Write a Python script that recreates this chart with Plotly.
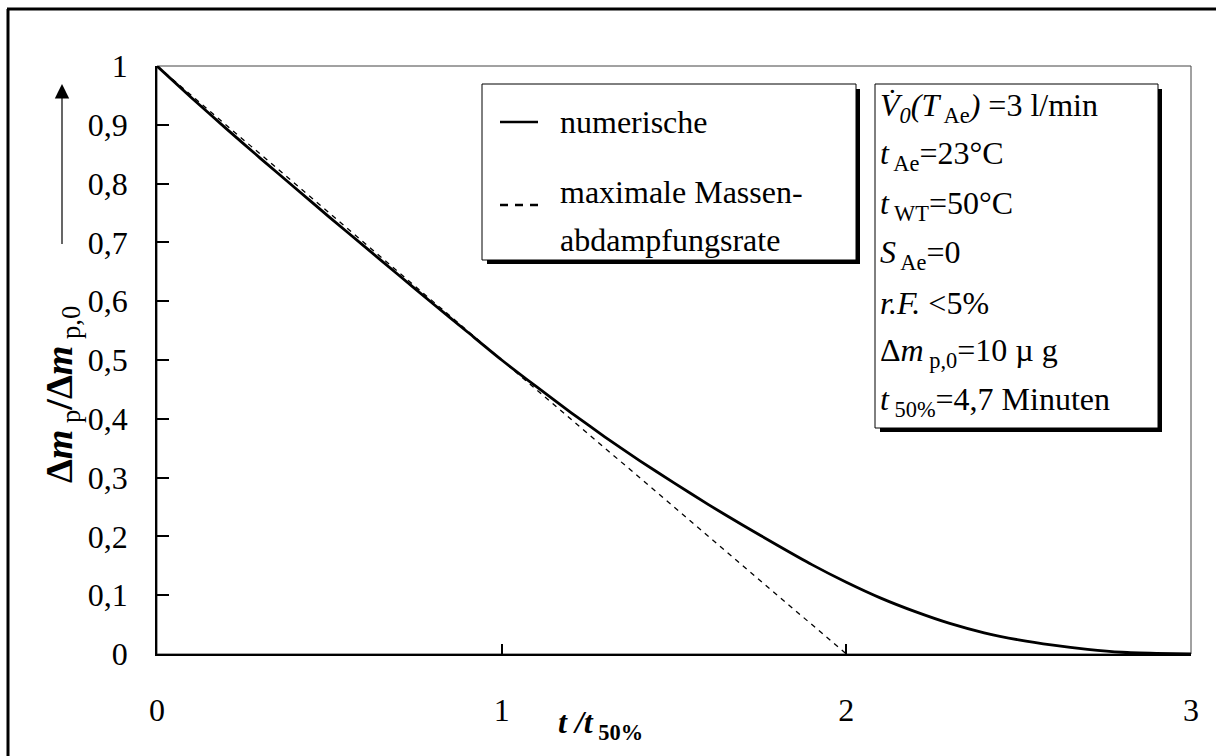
import plotly.graph_objects as go

# Relative time t / t50%
t_rel = [0.0, 0.1, 0.2, 0.3, 0.4, 0.5, 0.6, 0.7, 0.8, 0.9, 1.0,
         1.1, 1.2, 1.3, 1.4, 1.5, 1.6, 1.7, 1.8, 1.9, 2.0,
         2.1, 2.2, 2.3, 2.4, 2.5, 2.6, 2.7, 2.8, 2.9, 3.0]
# Numerical solution of the relative particle mass
mass_numeric = [1.0, 0.946, 0.894, 0.843, 0.793, 0.743, 0.694, 0.645, 0.596, 0.548, 0.500,
                0.455, 0.411, 0.369, 0.329, 0.291, 0.254, 0.219, 0.185, 0.152, 0.122,
                0.095, 0.072, 0.052, 0.036, 0.024, 0.015, 0.008, 0.003, 0.001, 0.0]
# Maximum evaporation rate (linear decrease)
t_max_rate = [0.0, 2.0]
mass_max_rate = [1.0, 0.0]

y_tickvals = [0, 0.1, 0.2, 0.3, 0.4, 0.5, 0.6, 0.7, 0.8, 0.9, 1.0]
y_ticktext = ["0", "0,1", "0,2", "0,3", "0,4", "0,5", "0,6", "0,7", "0,8", "0,9", "1"]
x_tickvals = [0, 1, 2, 3]
x_ticktext = ["0", "1", "2", "3"]

legend_labels = ["numerische", "maximale Massen-", "abdampfungsrate"]
info_lines = [
    "<i>V\u0307</i><sub><i>0</i></sub><i>(T</i><sub> Ae</sub><i>)</i> =3 l/min",
    "<i>t</i><sub> Ae</sub>=23°C",
    "<i>t</i><sub> WT</sub>=50°C",
    "<i>S</i><sub> Ae</sub>=0",
    "<i>r.F.</i> &lt;5%",
    "Δ<i>m</i><sub> p,0</sub>=10 µ g",
    "<i>t</i><sub> 50%</sub>=4,7 Minuten",
]

FONT = "Liberation Serif"
FS = 32

# plot area in pixels
L, R, T, B = 157, 1191, 66, 654
W, H = R - L, B - T


def px(x):
    return (x - L) / W


def py(y):
    return (B - y) / H


fig = go.Figure()
fig.add_trace(go.Scatter(x=t_max_rate, y=mass_max_rate, mode="lines",
                         line=dict(color="black", width=1.3, dash="5px,5px"),
                         showlegend=False, hoverinfo="skip"))
fig.add_trace(go.Scatter(x=t_rel, y=mass_numeric, mode="lines",
                         line=dict(color="black", width=2.8, shape="spline", smoothing=0.5),
                         showlegend=False, hoverinfo="skip"))

shapes = []
annotations = []

# outer figure border
shapes.append(dict(type="line", xref="paper", yref="paper", x0=px(8), y0=py(9), x1=px(8), y1=py(770),
                   line=dict(color="black", width=3)))
shapes.append(dict(type="line", xref="paper", yref="paper", x0=px(7), y0=py(9), x1=px(1230), y1=py(9),
                   line=dict(color="black", width=3)))
# plot frame
shapes.append(dict(type="rect", xref="paper", yref="paper", x0=0, y0=0, x1=1, y1=1,
                   line=dict(color="#444", width=1), layer="below"))


def shadow_box(x0, y0, x1, y1):
    shapes.append(dict(type="rect", xref="paper", yref="paper",
                       x0=px(x0 + 5), y0=py(y1 + 4), x1=px(x1 + 4), y1=py(y0 + 5),
                       fillcolor="black", line=dict(width=0), layer="above"))
    shapes.append(dict(type="rect", xref="paper", yref="paper",
                       x0=px(x0), y0=py(y1), x1=px(x1), y1=py(y0),
                       fillcolor="white", line=dict(color="black", width=1), layer="above"))


# legend box with line samples
shadow_box(482, 84, 856, 260)
shapes.append(dict(type="line", xref="paper", yref="paper", x0=px(500), y0=py(122), x1=px(538), y1=py(122),
                   line=dict(color="black", width=2.5), layer="above"))
for xs in (500, 515, 530):
    shapes.append(dict(type="line", xref="paper", yref="paper", x0=px(xs), y0=py(205), x1=px(xs + 8),
                       y1=py(205), line=dict(color="black", width=2.5), layer="above"))
for label, yy in zip(legend_labels, [122, 192, 240]):
    annotations.append(dict(xref="paper", yref="paper", x=px(558), y=py(yy), text=label,
                            xanchor="left", yanchor="middle", showarrow=False,
                            font=dict(family=FONT, size=FS, color="black")))

# parameter box
shadow_box(875, 84, 1158, 428)
for i, line in enumerate(info_lines):
    annotations.append(dict(xref="paper", yref="paper", x=px(878), y=py(107 + i * 49), text=line,
                            xanchor="left", yanchor="middle", showarrow=False,
                            font=dict(family=FONT, size=FS, color="black")))

# axis titles
annotations.append(dict(xref="paper", yref="paper", x=px(600), y=py(724),
                        text="<b><i>t /t</i></b><sub><b> 50%</b></sub>",
                        xanchor="center", yanchor="middle", showarrow=False,
                        font=dict(family=FONT, size=FS, color="black")))
annotations.append(dict(xref="paper", yref="paper", x=px(62), y=py(395),
                        text="<b>Δ<i>m</i></b><sub> p</sub><b>/Δ<i>m</i></b><sub> p,0</sub>",
                        textangle=-90, xanchor="center", yanchor="middle", showarrow=False,
                        font=dict(family=FONT, size=38, color="black")))
# upward arrow beside the y title: thin shaft plus a filled head
shapes.append(dict(type="line", xref="paper", yref="paper", x0=px(62), y0=py(92), x1=px(62), y1=py(244),
                   line=dict(color="black", width=1.2)))
annotations.append(dict(xref="paper", yref="paper", x=px(62), y=py(84), text="",
                        showarrow=True, arrowhead=2, arrowsize=1.2, arrowwidth=2.4,
                        arrowcolor="black", axref="pixel", ayref="pixel", ax=0, ay=14))

fig.update_layout(
    width=1216, height=756, autosize=False,
    margin=dict(l=L, r=1216 - R, t=T, b=756 - B),
    paper_bgcolor="white", plot_bgcolor="white",
    font=dict(family=FONT, size=FS, color="black"),
    shapes=shapes, annotations=annotations,
    xaxis=dict(range=[0, 3], tickvals=x_tickvals, ticktext=x_ticktext,
               ticks="inside", ticklen=10, tickwidth=1.5, tickcolor="black",
               showline=True, linecolor="black", linewidth=1.5, showgrid=False, zeroline=False,
               ticklabelstandoff=27, tickfont=dict(family=FONT, size=FS, color="black")),
    yaxis=dict(range=[0, 1], tickvals=y_tickvals, ticktext=y_ticktext,
               ticks="inside", ticklen=12, tickwidth=1.5, tickcolor="black",
               showline=True, linecolor="black", linewidth=1.5, showgrid=False, zeroline=False,
               ticklabelstandoff=21, tickfont=dict(family=FONT, size=FS, color="black")),
)

fig.write_html("out.html")
